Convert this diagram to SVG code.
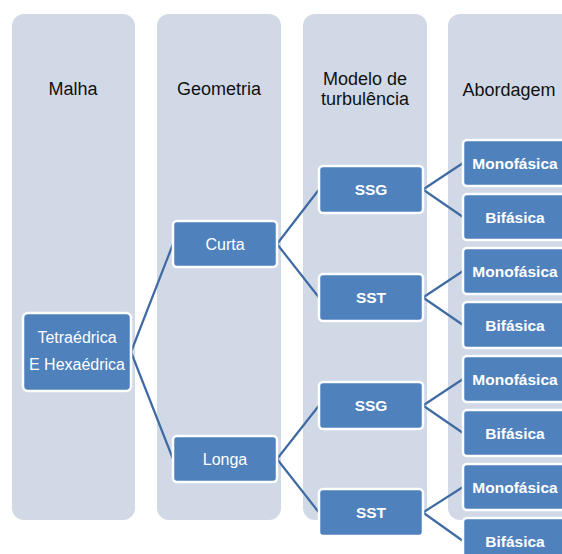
<svg xmlns="http://www.w3.org/2000/svg" width="562" height="554" viewBox="0 0 562 554">
<style>
.col{fill:#d1d9e7}
.hd{font-family:"Liberation Sans",Arial,sans-serif;font-size:18px;fill:#111;text-anchor:middle}
.box{fill:#4f81bd;stroke:#fff;stroke-width:2.5}
.t{font-family:"Liberation Sans",Arial,sans-serif;font-size:16px;fill:#fff;text-anchor:middle}
.b{font-weight:bold;font-size:15.5px}
.cn{stroke:#3f6aa2;stroke-width:2.2;fill:none}
</style>
<rect width="562" height="554" fill="#fff"/>
<g id="columns">
<rect class="col" x="12" y="14" width="123" height="506" rx="12"/>
<rect class="col" x="157" y="14" width="124" height="506" rx="12"/>
<rect class="col" x="303" y="14" width="124" height="506" rx="12"/>
<rect class="col" x="448" y="14" width="130" height="506" rx="12"/>
<text class="hd" x="73" y="95">Malha</text>
<text class="hd" x="219" y="95">Geometria</text>
<text class="hd" x="365" y="85">Modelo de</text>
<text class="hd" x="365" y="105">turbulência</text>
<text class="hd" x="509" y="96">Abordagem</text>
</g>
<g id="connectors">
<path class="cn" d="M131,352 L173,244 M131,352 L173,459"/>
<path class="cn" d="M277,244 L319,189.5 M277,244 L319,297.5"/>
<path class="cn" d="M277,459 L319,405.5 M277,459 L319,512.5"/>
<path class="cn" d="M423,189.5 L463,163 M423,189.5 L463,217"/>
<path class="cn" d="M423,297.5 L463,271 M423,297.5 L463,325"/>
<path class="cn" d="M423,405.5 L463,379 M423,405.5 L463,433"/>
<path class="cn" d="M423,512.5 L463,487 M423,512.5 L463,541"/>
</g>
<g id="tetra"><rect class="box" x="23" y="313" width="108" height="78" rx="5"/>
<text class="t" x="77" y="343">Tetraédrica</text>
<text class="t" x="77" y="370">E Hexaédrica</text></g>
<g id="curta"><rect class="box" x="173" y="221" width="104" height="46" rx="4"/><text class="t" x="225" y="249.5">Curta</text></g>
<g id="longa"><rect class="box" x="173" y="436" width="104" height="46" rx="4"/><text class="t" x="225" y="464.5">Longa</text></g>
<g id="ssg1"><rect class="box" x="319" y="166" width="104" height="47" rx="4"/><text class="t b" x="371" y="195">SSG</text></g>
<g id="sst1"><rect class="box" x="319" y="274" width="104" height="47" rx="4"/><text class="t b" x="371" y="303">SST</text></g>
<g id="ssg2"><rect class="box" x="319" y="382" width="104" height="47" rx="4"/><text class="t b" x="371" y="411">SSG</text></g>
<g id="sst2"><rect class="box" x="319" y="489" width="104" height="47" rx="4"/><text class="t b" x="371" y="518">SST</text></g>
<g id="mono1"><rect class="box" x="463" y="140" width="104" height="46" rx="4"/><text class="t b" x="515" y="168.5">Monofásica</text></g>
<g id="bif1"><rect class="box" x="463" y="194" width="104" height="46" rx="4"/><text class="t b" x="515" y="222.5">Bifásica</text></g>
<g id="mono2"><rect class="box" x="463" y="248" width="104" height="46" rx="4"/><text class="t b" x="515" y="276.5">Monofásica</text></g>
<g id="bif2"><rect class="box" x="463" y="302" width="104" height="46" rx="4"/><text class="t b" x="515" y="330.5">Bifásica</text></g>
<g id="mono3"><rect class="box" x="463" y="356" width="104" height="46" rx="4"/><text class="t b" x="515" y="384.5">Monofásica</text></g>
<g id="bif3"><rect class="box" x="463" y="410" width="104" height="46" rx="4"/><text class="t b" x="515" y="438.5">Bifásica</text></g>
<g id="mono4"><rect class="box" x="463" y="464" width="104" height="46" rx="4"/><text class="t b" x="515" y="492.5">Monofásica</text></g>
<g id="bif4"><rect class="box" x="463" y="518" width="104" height="46" rx="4"/><text class="t b" x="515" y="546.5">Bifásica</text></g>
</svg>
